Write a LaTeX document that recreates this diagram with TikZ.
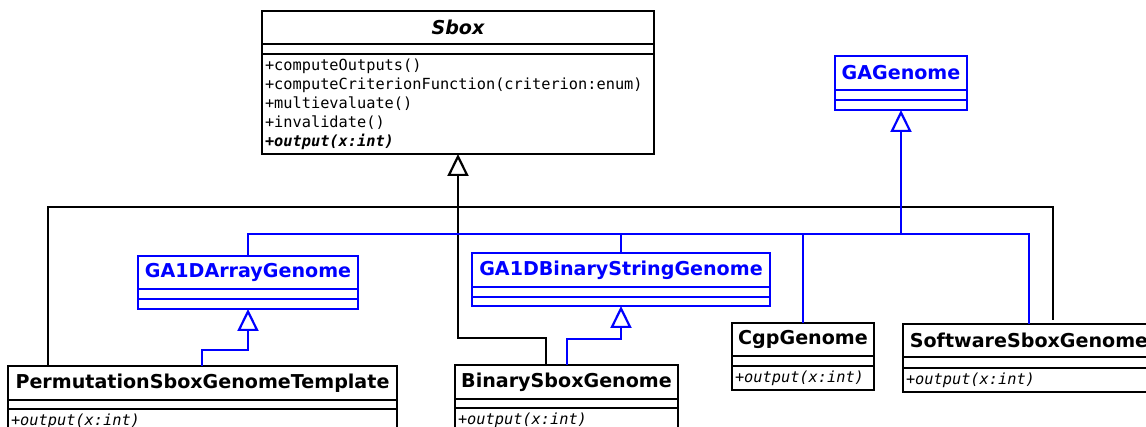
\documentclass[tikz,border=0pt]{standalone}
\usepackage{fontspec}
\setmainfont{DejaVu Sans}
\setmonofont{DejaVu Sans Mono}
\usetikzlibrary{positioning,arrows.meta}
\tikzset{
	box/.style={draw, line width=2.2pt, inner sep=0pt, outer sep=0pt, anchor=north west},
	head/.style={box, font=\fontsize{19.1}{22}\selectfont\bfseries},
	attrs/.style={box},
	ops/.style={box, inner xsep=3pt, align=left, font=\fontsize{15.3}{19}\selectfont\ttfamily},
	gen/.style={draw=blue, text=blue},
	link/.style={line width=2.2pt},
	inherit/.style={link, -{Triangle[open, length=22pt, width=21pt]}},
}

\begin{document}
\begin{tikzpicture}[x=1pt, y=-1pt]
				\useasboundingbox (0,0) rectangle (1146,427);
				\clip (0,0) rectangle (1146,427);
				
				\node[head, minimum width=392pt, minimum height=33pt] (sbox) at (262,11) {\itshape Sbox};
				\node[attrs, minimum width=392pt, minimum height=10pt, below=0pt of sbox] (sboxattr) {};
				\node[ops, text width=386pt, minimum height=100pt, below=0pt of sboxattr] (sboxops) {+computeOutputs()\\+computeCriterionFunction(criterion:enum)\\+multievaluate()\\+invalidate()\\\textbf{\textit{+output(x:int)}}};
				
				\node[head, gen, minimum width=132pt, minimum height=34pt] (ga) at (835,56) {GAGenome};
				\node[attrs, gen, minimum width=132pt, minimum height=10pt, below=0pt of ga] (gaattr) {};
				\node[attrs, gen, minimum width=132pt, minimum height=10pt, below=0pt of gaattr] (gaops) {};
				
				\node[head, gen, minimum width=220pt, minimum height=33pt] (arr) at (138,256) {GA1DArrayGenome};
				\node[attrs, gen, minimum width=220pt, minimum height=10pt, below=0pt of arr] (arrattr) {};
				\node[attrs, gen, minimum width=220pt, minimum height=10pt, below=0pt of arrattr] (arrops) {};
				
				\node[head, gen, minimum width=298pt, minimum height=34pt] (bin) at (472,253) {GA1DBinaryStringGenome};
				\node[attrs, gen, minimum width=298pt, minimum height=10pt, below=0pt of bin] (binattr) {};
				\node[attrs, gen, minimum width=298pt, minimum height=9pt, below=0pt of binattr] (binops) {};
				
				\node[head, minimum width=389pt, minimum height=34pt] (perm) at (8,366) {PermutationSboxGenomeTemplate};
				\node[attrs, minimum width=389pt, minimum height=9pt, below=0pt of perm] (permattr) {};
				\node[ops, text width=383pt, minimum height=24pt, below=0pt of permattr] (permops) {\textit{+output(x:int)}};
				
				\node[head, minimum width=223pt, minimum height=34pt] (binsbox) at (455,365) {BinarySboxGenome};
				\node[attrs, minimum width=223pt, minimum height=9pt, below=0pt of binsbox] (binsboxattr) {};
				\node[ops, text width=217pt, minimum height=24pt, below=0pt of binsboxattr] (binsboxops) {\textit{+output(x:int)}};
				
				\node[head, minimum width=142pt, minimum height=33pt] (cgp) at (732,323) {CgpGenome};
				\node[attrs, minimum width=142pt, minimum height=10pt, below=0pt of cgp] (cgpattr) {};
				\node[ops, text width=136pt, minimum height=24pt, below=0pt of cgpattr] (cgpops) {\textit{+output(x:int)}};
				
				\node[head, minimum width=252pt, minimum height=33pt] (soft) at (903,324) {SoftwareSboxGenome};
				\node[attrs, minimum width=252pt, minimum height=11pt, below=0pt of soft] (softattr) {};
				\node[ops, text width=246pt, minimum height=24pt, below=0pt of softattr] (softops) {\textit{+output(x:int)}};
				
				\coordinate (sbus) at (sboxops.south |- 0,207);
				\coordinate (sbend) at (sboxops.south |- 0,338);
				\coordinate (gbus) at (gaops.south |- 0,234);
				\coordinate (abend) at (arrops.south |- 0,350);
				\coordinate (bbend) at (binops.south |- 0,339);
				
				\draw[link] ([xshift=40pt]perm.north west) |- (sbus);
				\draw[link] ([xshift=150pt, yshift=4pt]soft.north west) |- (sbus);
				\draw[link] ([xshift=91pt]binsbox.north west) |- (sbend) -- (sbus);
				\draw[inherit] (sbus) -- (sboxops.south);
				
				\draw[link, blue] (arr.north) |- (gbus);
				\draw[link, blue] (bin.north) -- (bin.north |- gbus);
				\draw[link, blue] (cgp.north) |- (gbus);
				\draw[link, blue] (soft.north) |- (gbus);
				\draw[inherit, blue] (gbus) -- (gaops.south);
				
				\draw[inherit, blue] ([xshift=194pt]perm.north west) |- (abend) -- (arrops.south);
				\draw[inherit, blue] ([xshift=112pt]binsbox.north west) |- (bbend) -- (binops.south);
			\end{tikzpicture}
\end{document}
